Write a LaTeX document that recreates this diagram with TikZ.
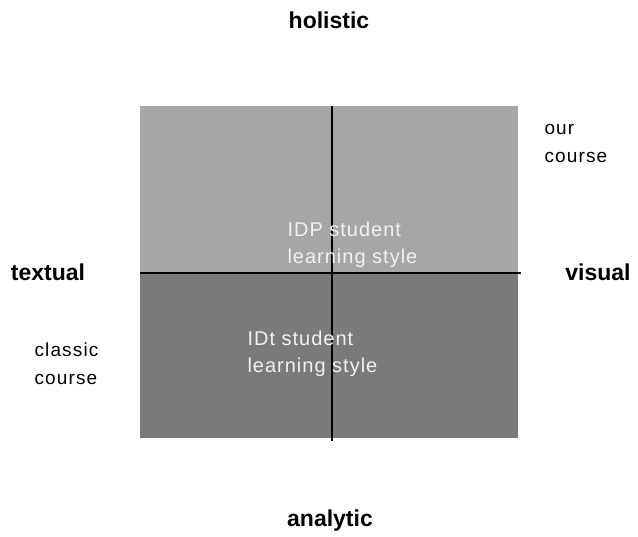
\documentclass[tikz,border=0pt]{standalone}
\usepackage{fontspec}
\setmainfont{Liberation Sans}
\usepackage{tikz}
\definecolor{holgray}{HTML}{A6A6A6}
\definecolor{anagray}{HTML}{7A7A7A}
\newcommand{\Upper}{(140,106) rectangle (518,273)}
\newcommand{\Lower}{(140,273) rectangle (518,438)}
\tikzset{axislabel/.style={font=\fontsize{23}{27}\selectfont\bfseries},
  sidelabel/.style={font=\fontsize{19}{28}\selectfont\addfontfeatures{LetterSpace=6},align=left},
  innerlabel/.style={font=\fontsize{20}{27}\selectfont\addfontfeatures{LetterSpace=5},align=left,text=white!94!black}}

\begin{document}
\begin{tikzpicture}[x=1pt,y=-1pt]
\useasboundingbox (0,0) rectangle (638,537);
\fill[holgray] \Upper;
\fill[anagray] \Lower;
\coordinate (west) at (140,273);
\coordinate (east) at (521,273);
\coordinate (north) at (332,106);
\coordinate (south) at (332,441);
\draw[line width=1.6] (west) -- (east);
\draw[line width=1.6] (north) -- (south);
\node[axislabel] (hol) at (329,20) {holistic};
\node[axislabel] (ana) at (330,521) {analytic};
\node[axislabel] (tex) at (48,272) {textual};
\node[axislabel] (vis) at (598,272) {visual};
\node[sidelabel,anchor=west] (our) at (541,143) {our\\course};
\node[sidelabel,anchor=west] (cla) at (31,364) {classic\\course};
\node[innerlabel,anchor=west] (idp) at (284,245) {IDP student\\learning style};
\node[innerlabel,anchor=west] (idt) at (244,354) {IDt student\\learning style};
\end{tikzpicture}
\end{document}
